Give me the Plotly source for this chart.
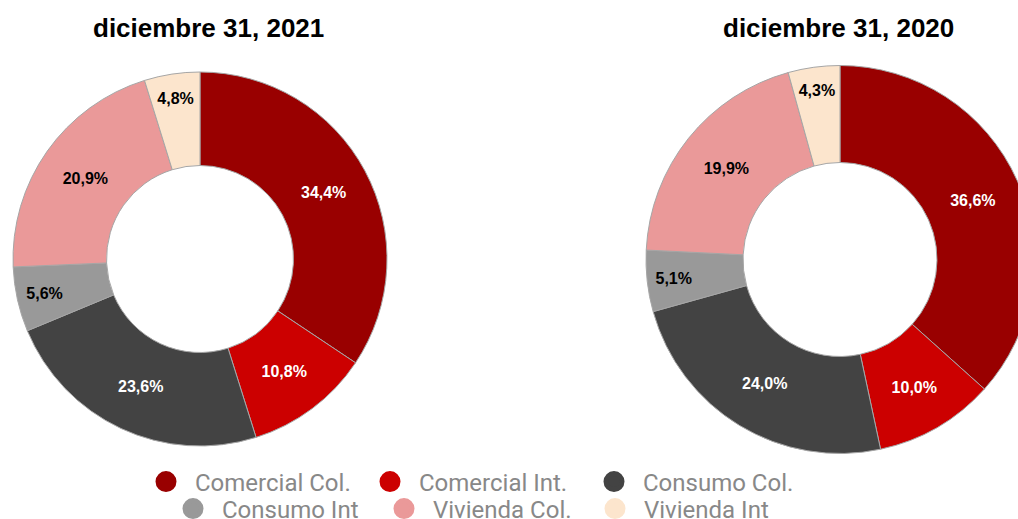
import plotly.graph_objects as go

categories = ["Comercial Col.", "Comercial Int.", "Consumo Col.", "Consumo Int", "Vivienda Col.", "Vivienda Int"]
values_2021 = [34.4, 10.8, 23.6, 5.6, 20.9, 4.8]
values_2020 = [36.6, 10.0, 24.0, 5.1, 19.9, 4.3]
titles = ["diciembre 31, 2021", "diciembre 31, 2020"]
colors = ["#990000", "#CC0000", "#434343", "#999999", "#EA9999", "#FCE5CD"]
text_colors = ["#ffffff", "#ffffff", "#ffffff", "#000000", "#000000", "#000000"]

W, H = 1050, 535

def dom(cx, cy, r):
    return dict(x=[(cx - r) / W, (cx + r) / W], y=[(H - cy - r) / H, (H - cy + r) / H])

fig = go.Figure()
for vals, d in [(values_2021, dom(200, 259, 187)), (values_2020, dom(840, 259.5, 194))]:
    fig.add_trace(go.Pie(
        labels=categories, values=vals, sort=False, direction="clockwise", rotation=0,
        hole=0.5, domain=d, showlegend=False,
        marker=dict(colors=colors, line=dict(color="#a6a6a6", width=1)),
        texttemplate="%{value:.1f}%", textposition="inside", insidetextorientation="horizontal",
        insidetextfont=dict(color=text_colors, size=16, family="Liberation Sans", weight="bold"),
        hoverinfo="label+value",
    ))

for i, (name, c) in enumerate(zip(categories, colors)):
    fig.add_trace(go.Scatter(
        x=[None], y=[None], mode="markers", name=name,
        marker=dict(color=c, size=20, symbol="circle", line=dict(color=c, width=5)),
        legend="legend" if i < 3 else "legend2",
    ))

for t, cx in zip(titles, [208, 838]):
    fig.add_annotation(text="<b>" + t + "</b>", x=cx / W, y=1 - 28 / H, xref="paper", yref="paper",
                       xanchor="center", yanchor="middle", showarrow=False,
                       font=dict(family="Liberation Sans", size=26, color="#000000"))

legend_common = dict(orientation="h", xanchor="left", yanchor="middle",
                     font=dict(family="Roboto", size=24, color="#888888"),
                     bgcolor="rgba(0,0,0,0)", itemsizing="trace", itemwidth=48,
                     entrywidthmode="pixels")
fig.update_layout(
    width=W, height=H, margin=dict(l=0, r=0, t=0, b=0),
    paper_bgcolor="white", plot_bgcolor="white",
    separators=",.",
    xaxis=dict(visible=False), yaxis=dict(visible=False),
    legend=dict(x=137 / W, y=53 / H, entrywidth=161, **legend_common),
    legend2=dict(x=164 / W, y=26 / H, entrywidth=148, **legend_common),
)

fig.write_html("out.html", config={"displayModeBar": False},
               post_script="document.body.style.margin='0';document.body.style.overflow='hidden';")
